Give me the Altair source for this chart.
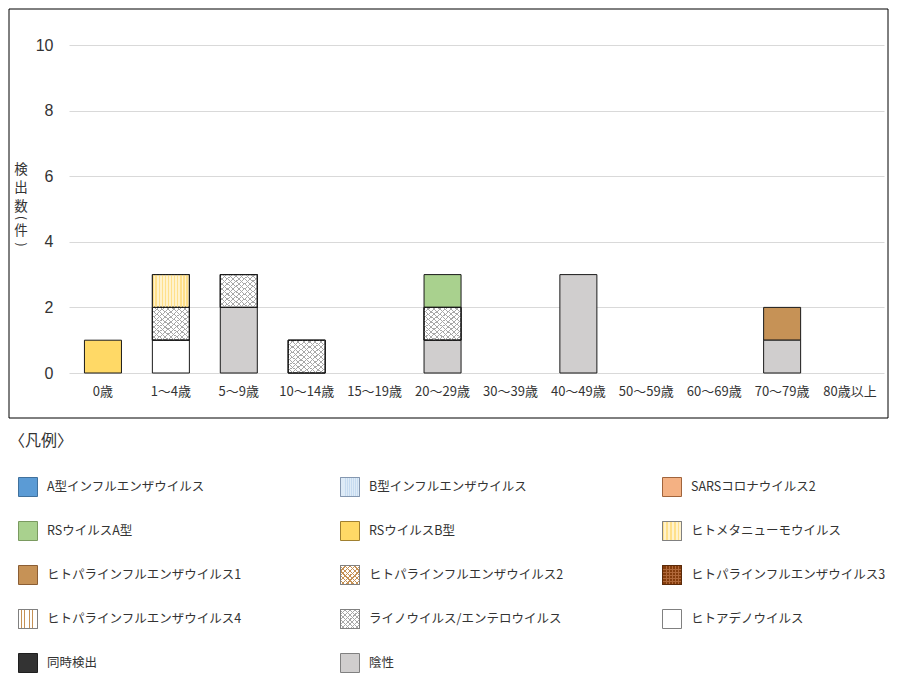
import altair as alt
import pandas as pd

# ---------------- data ----------------
ages = ["0歳", "1～4歳", "5～9歳", "10～14歳", "15～19歳", "20～29歳",
        "30～39歳", "40～49歳", "50～59歳", "60～69歳", "70～79歳", "80歳以上"]

series_names = [
    "A型インフルエンザウイルス", "B型インフルエンザウイルス", "SARSコロナウイルス2",
    "RSウイルスA型", "RSウイルスB型", "ヒトメタニューモウイルス",
    "ヒトパラインフルエンザウイルス1", "ヒトパラインフルエンザウイルス2", "ヒトパラインフルエンザウイルス3",
    "ヒトパラインフルエンザウイルス4", "ライノウイルス/エンテロウイルス", "ヒトアデノウイルス",
    "同時検出", "陰性",
]

flu_a      = [0, 0, 0, 0, 0, 0, 0, 0, 0, 0, 0, 0]
flu_b      = [0, 0, 0, 0, 0, 0, 0, 0, 0, 0, 0, 0]
sars2      = [0, 0, 0, 0, 0, 0, 0, 0, 0, 0, 0, 0]
rs_a       = [0, 0, 0, 0, 0, 1, 0, 0, 0, 0, 0, 0]
rs_b       = [1, 0, 0, 0, 0, 0, 0, 0, 0, 0, 0, 0]
hmpv       = [0, 1, 0, 0, 0, 0, 0, 0, 0, 0, 0, 0]
para1      = [0, 0, 0, 0, 0, 0, 0, 0, 0, 0, 1, 0]
para2      = [0, 0, 0, 0, 0, 0, 0, 0, 0, 0, 0, 0]
para3      = [0, 0, 0, 0, 0, 0, 0, 0, 0, 0, 0, 0]
para4      = [0, 0, 0, 0, 0, 0, 0, 0, 0, 0, 0, 0]
rhino      = [0, 1, 1, 1, 0, 1, 0, 0, 0, 0, 0, 0]
adeno      = [0, 1, 0, 0, 0, 0, 0, 0, 0, 0, 0, 0]
coinfect   = [0, 0, 0, 0, 0, 0, 0, 0, 0, 0, 0, 0]
negative   = [0, 0, 2, 0, 0, 1, 0, 3, 0, 0, 1, 0]

series_values = [flu_a, flu_b, sars2, rs_a, rs_b, hmpv, para1, para2, para3,
                 para4, rhino, adeno, coinfect, negative]

y_ticks = [0, 2, 4, 6, 8, 10]
y_title_chars = ["検", "出", "数", "(", "件", ")"]
legend_title = "〈凡例〉"

# ---------------- styles ----------------
FONT = "Noto Sans CJK JP"
TXT = "#333333"
base_fill = ["#5B9BD5", "#DEEBF7", "#F4B183", "#A9D18E", "#FFD966", "#FFF2CC",
             "#C69256", "#FFFFFF", "#843C0C", "#FFFFFF", "#FFFFFF", "#FFFFFF",
             "#333333", "#D0CECE"]
leg_stroke = ["#41719C", "#8497B0", "#A0643C", "#7A9A60", "#A08030", "#808080",
              "#8B5E34", "#808080", "#5B2A0A", "#808080", "#808080", "#808080",
              "#1F1F1F", "#808080"]
CLEAR = "rgba(0,0,0,0)"


def grad(c_on, c_off, n, frac, x1=0, y1=0, x2=1, y2=0):
    stops = []
    for i in range(n):
        a = i / n
        b = (i + frac) / n
        c = (i + 1) / n
        stops += [dict(offset=a, color=c_on), dict(offset=b, color=c_on),
                  dict(offset=b, color=c_off), dict(offset=c, color=c_off)]
    return dict(gradient="linear", x1=x1, y1=y1, x2=x2, y2=y2, stops=stops)


def lattice(color, n, frac):
    return [grad(color, CLEAR, n, frac, 0, 0, 1, 1),
            grad(color, CLEAR, n, frac, 1, 0, 0, 1)]


# overlays for bars (segment ~37x33 px)
bar_overlays = {
    "ライノウイルス/エンテロウイルス": lattice("#A8A8A8", 13, 0.2),
    "ヒトメタニューモウイルス": [grad("#FFE08A", CLEAR, 12, 0.45)],
}
# overlays for legend swatches (19x19 px)
leg_overlays = {
    "B型インフルエンザウイルス": [grad("#C6DBF0", CLEAR, 9, 0.4)],
    "ヒトメタニューモウイルス": [grad("#FFE08A", CLEAR, 5, 0.45)],
    "ヒトパラインフルエンザウイルス2": lattice("#C69256", 8, 0.3),
    "ヒトパラインフルエンザウイルス3": [grad("#B0683A", CLEAR, 6, 0.3),
                                    grad("#B0683A", CLEAR, 6, 0.3, 0, 0, 0, 1)],
    "ヒトパラインフルエンザウイルス4": [grad("#C69256", CLEAR, 7, 0.25)],
    "ライノウイルス/エンテロウイルス": lattice("#A8A8A8", 8, 0.22),
}

# ---------------- tables ----------------
rows = []
nser = len(series_names)
for si, (nm, vals) in enumerate(zip(series_names, series_values)):
    for a, v in zip(ages, vals):
        rows.append({"name": nm, "age": a, "count": v, "order": nser - 1 - si})
df = pd.DataFrame(rows)
leg_df = pd.DataFrame({"name": series_names, "idx": list(range(nser))})

W, H = 815, 328

# ---------------- main chart ----------------
bars_base = (
    alt.Chart(df)
    .transform_filter(alt.datum["count"] > 0)
    .transform_stack(stack="count", groupby=["age"],
                     sort=[alt.SortField("order", "ascending")], as_=["y0", "y1"])
    .encode(
        x=alt.X("age:N", sort=ages,
                scale=alt.Scale(domain=ages, paddingInner=0.455, paddingOuter=0.2275),
                axis=alt.Axis(title=None, labelAngle=0, domain=False, ticks=False, tickSize=0,
                              labelPadding=12, labelFont=FONT, labelFontSize=13,
                              labelColor=TXT, labelOverlap=False, grid=False)),
        y=alt.Y("y0:Q", scale=alt.Scale(domain=[0, 10], nice=False),
                axis=alt.Axis(title=None, values=y_ticks, grid=True, gridColor="#D9D9D9",
                              domain=False, ticks=False, tickSize=0, labelPadding=16,
                              labelFont="Liberation Sans", labelFontSize=16, labelColor=TXT)),
        y2="y1:Q",
    )
)

bar_layers = [
    bars_base.mark_bar(stroke="#1A1A1A", strokeWidth=1).encode(
        fill=alt.Fill("name:N", scale=alt.Scale(domain=series_names, range=base_fill),
                      legend=None))
]
for nm, grads in bar_overlays.items():
    for g in grads:
        bar_layers.append(
            bars_base.transform_filter(alt.datum["name"] == nm)
            .mark_bar(fill=g, stroke="#1A1A1A", strokeWidth=1)
        )

one = pd.DataFrame({"a": [0]})
border = alt.Chart(one).mark_rect(fillOpacity=0, stroke="#000000", strokeWidth=1).encode(
    x=alt.value(-60), x2=alt.value(W + 4), y=alt.value(-36), y2=alt.value(H + 45))

# vertical axis title: characters stacked, parentheses turned to vertical form
ytitle_layers = []
for ch, yy, ang, fs in zip(y_title_chars,
                           [124.5, 143, 161.5, 173, 186, 199.5],
                           [0, 0, 0, 90, 0, 90],
                           [13.5, 13.5, 13.5, 12, 13.5, 12]):
    ytitle_layers.append(
        alt.Chart(one).mark_text(text=ch, font=FONT, fontSize=fs, color=TXT, angle=ang,
                                 align="center", baseline="middle")
        .encode(x=alt.value(-48), y=alt.value(yy))
    )

top = alt.layer(border, *ytitle_layers, *bar_layers).properties(width=W, height=H)

# ---------------- legend ----------------
LW, LH = 600, 176
leg_base = (
    alt.Chart(leg_df)
    .transform_calculate(col="datum.idx % 3", row="floor(datum.idx / 3)")
    .encode(
        x=alt.X("col:Q", scale=alt.Scale(domain=[0, 2], range=[-41, 603]), axis=None),
        y=alt.Y("row:Q", scale=alt.Scale(domain=[0, 4], reverse=True), axis=None),
    )
)
SW = 19 * 19
leg_layers = [
    leg_base.mark_square(size=SW, strokeWidth=1, opacity=1).encode(
        fill=alt.Fill("name:N", scale=alt.Scale(domain=series_names, range=base_fill), legend=None),
        stroke=alt.Stroke("name:N", scale=alt.Scale(domain=series_names, range=leg_stroke), legend=None),
    )
]
for nm, grads in leg_overlays.items():
    sc = leg_stroke[series_names.index(nm)]
    for g in grads:
        leg_layers.append(
            leg_base.transform_filter(alt.datum["name"] == nm)
            .mark_square(size=SW, fill=g, stroke=sc, strokeWidth=1, opacity=1)
        )
leg_layers.append(
    leg_base.mark_text(align="left", baseline="middle", dx=19, font=FONT, fontSize=12.5, color=TXT)
    .encode(text="name:N")
)
leg_title = alt.Chart(pd.DataFrame({"t": [legend_title]})).mark_text(
    align="left", baseline="middle", font=FONT, fontSize=16, color=TXT
).encode(x=alt.value(-60), y=alt.value(-46), text="t:N")

legend = alt.layer(leg_title, *leg_layers).properties(width=LW, height=LH)

chart = (
    alt.vconcat(top, legend, spacing=14)
    .properties(padding=0)
    .configure_view(stroke=None)
)

chart.save("out.html", embed_options={"renderer": "svg", "actions": False})
